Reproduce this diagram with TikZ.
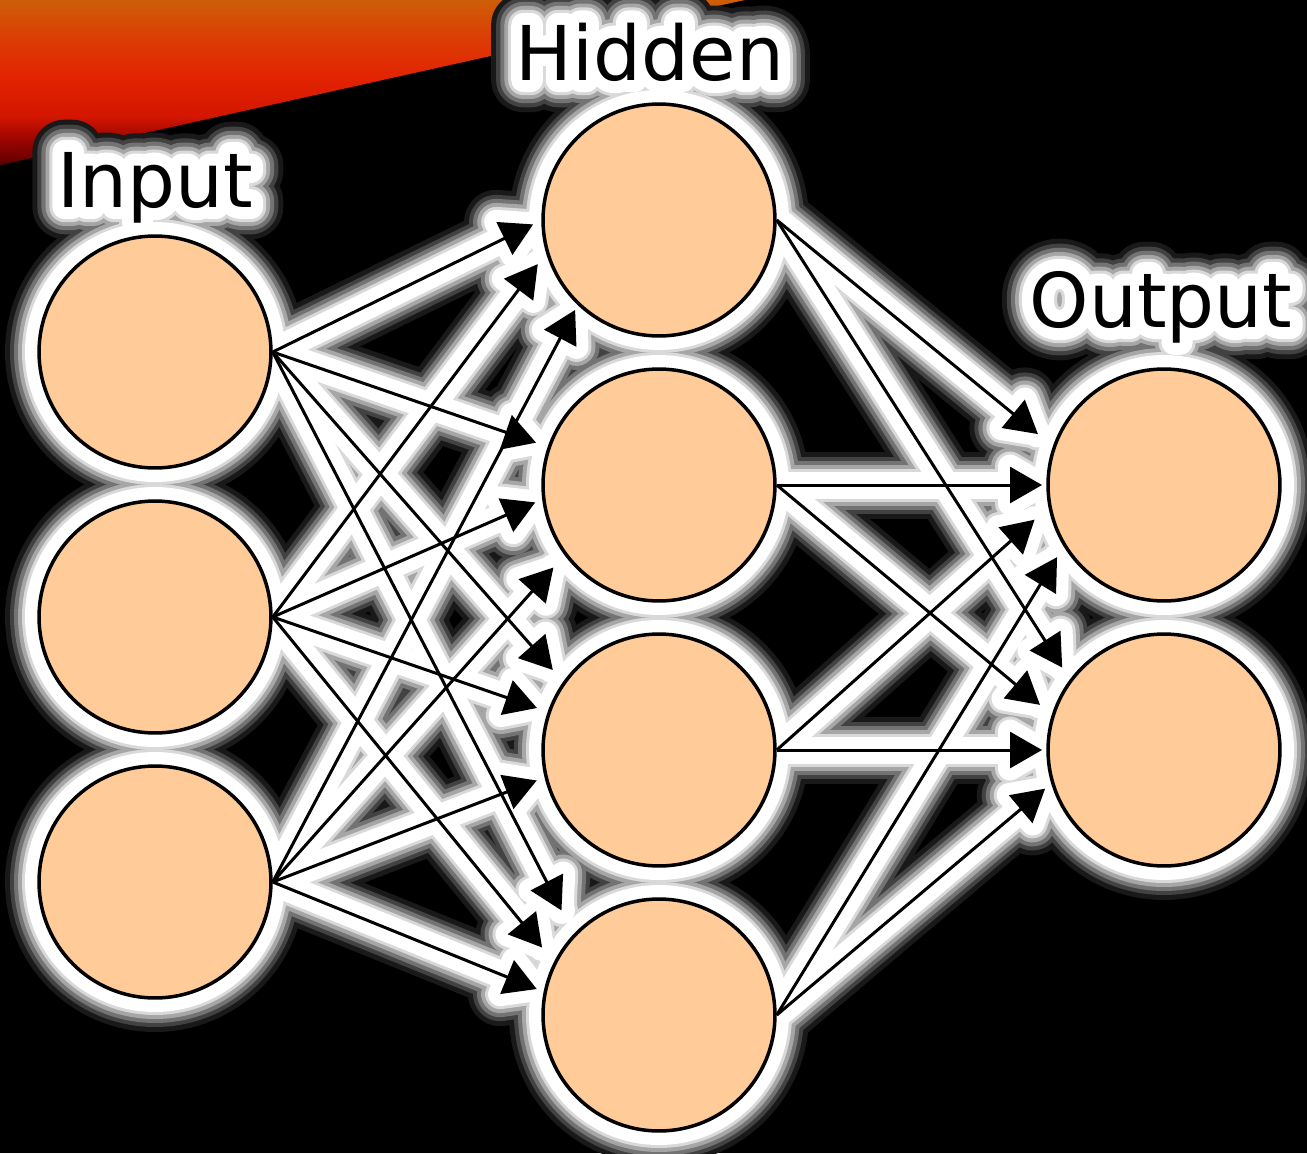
\documentclass[tikz,border=0pt]{standalone}
\usepackage{fontspec}
\newfontfamily\labelfont{DejaVu Sans}
\usetikzlibrary{arrows.meta,calc}

\definecolor{peach}{RGB}{255,204,153}
\definecolor{emberdark}{RGB}{92,0,0}
\definecolor{emberlow}{RGB}{150,4,0}
\definecolor{embermid}{RGB}{212,22,0}
\definecolor{emberred}{RGB}{226,36,2}
\definecolor{emberhigh}{RGB}{220,60,4}
\definecolor{embertop}{RGB}{206,94,8}
\pgfdeclareverticalshading{streak}{100bp}{
  color(0bp)=(emberdark); color(25bp)=(emberdark); color(32bp)=(emberlow);
  color(40bp)=(embermid); color(52bp)=(emberred); color(63bp)=(emberhigh);
  color(75bp)=(embertop); color(100bp)=(embertop)}

\pgfdeclarelayer{bg}
\pgfdeclarelayer{glow}
\pgfdeclarelayer{wires}
\pgfsetlayers{bg,glow,wires,main}

\tikzset{
  neuron/.style={circle, draw=black, fill=peach, line width=0.07cm,
    minimum size=4.64cm, inner sep=0pt},
  layername/.style={font=\labelfont\fontsize{43}{50}\selectfont,
    anchor=base, inner sep=0pt},
  link/.style={-{Triangle[length=0.64cm,width=0.72cm]}, line width=0.06cm},
  halo/.style={line width={(#1)*0.02cm}, line cap=round, line join=round},
}

% source/target/angle/distance of each arrow tip (from target centre)
\def\links{I1/H1/182/126, I2/H1/200/129, I3/H1/227/123,
  I1/H2/161/130, I2/H2/188/125, I3/H2/218/134,
  I1/H3/143/133, I2/H3/161/129, I3/H3/194/126,
  I1/H4/133/143, I2/H4/150/135, I3/H4/168/125,
  H1/O1/158/136, H2/O1/180/122, H3/O1/195/134, H4/O1/214/129,
  H1/O2/141/131, H2/O2/160/132, H3/O2/180/122, H4/O2/198/125}

\begin{document}
\begin{tikzpicture}[x=0.02cm, y=0.02cm]
    % background and streak
    \begin{pgfonlayer}{bg}
    \fill[black] (0,0) rectangle (1307,-1153);
    \shade[shading=streak]
      (0,0) -- (745,0) .. controls (560,-40) and (250,-110) .. (0,-165) -- cycle;
    \end{pgfonlayer}
    \useasboundingbox (0,0) rectangle (1307,-1153);

    % layer titles
    \node[layername] (lblin) at (155,-207) {Input};
    \node[layername] (lblhid) at (650,-80) {Hidden};
    \node[layername] (lblout) at (1161,-327) {Output};

    % neurons
    \foreach \i/\y in {1/352, 2/617, 3/882}
      \node[neuron] (I\i) at (155,-\y) {};
    \foreach \i/\y in {1/220, 2/485, 3/750, 4/1015}
      \node[neuron] (H\i) at (659,-\y) {};
    \foreach \i/\y in {1/485, 2/750}
      \node[neuron] (O\i) at (1164,-\y) {};

    % tip and head corners of every arrow
    \foreach \src/\dst/\ang/\dd in \links {
      \coordinate (t\src\dst) at ([shift={(\ang:\dd)}]\dst.center);
      \coordinate (m\src\dst) at ($(t\src\dst)!0.64cm!(\src.east)$);
      \coordinate (l\src\dst) at ($(m\src\dst)!0.37cm!90:(t\src\dst)$);
      \coordinate (r\src\dst) at ($(m\src\dst)!0.37cm!-90:(t\src\dst)$);
    }

    \begin{pgfonlayer}{wires}
    \foreach \src/\dst/\ang/\dd in \links
      \draw[link] (\src.east) -- (t\src\dst);
    \end{pgfonlayer}

    % white glow, outer (dark) to inner (white)
    \begin{pgfonlayer}{glow}
    \foreach \e/\gl/\fb in {32/10/85, 27/26/72, 23/45/61, 19/65/50, 15/85/40, 12/100/32} {
      \begin{scope}[color=white!\gl!black, line join=round]
      \foreach \src/\dst/\ang/\dd in \links {
        \draw[halo=2*\e+3] (\src.east) -- (t\src\dst);
        \filldraw[halo=2*\e] (t\src\dst) -- (l\src\dst) -- (r\src\dst) -- cycle;
      }
      \foreach \n in {I1,I2,I3,H1,H2,H3,H4,O1,O2}
        \fill (\n.center) circle[radius={2.36cm+\e*0.02cm}];
      \foreach \lbl/\txt in {lblin/Input, lblhid/Hidden, lblout/Output}
        \node[layername, text=white!\gl!black,
          font={\fontspec[FakeBold=\fb]{DejaVu Sans}\fontsize{43}{50}\selectfont}]
          at (\lbl.base) {\txt};
      \end{scope}
    }
    \end{pgfonlayer}
\end{tikzpicture}
\end{document}
